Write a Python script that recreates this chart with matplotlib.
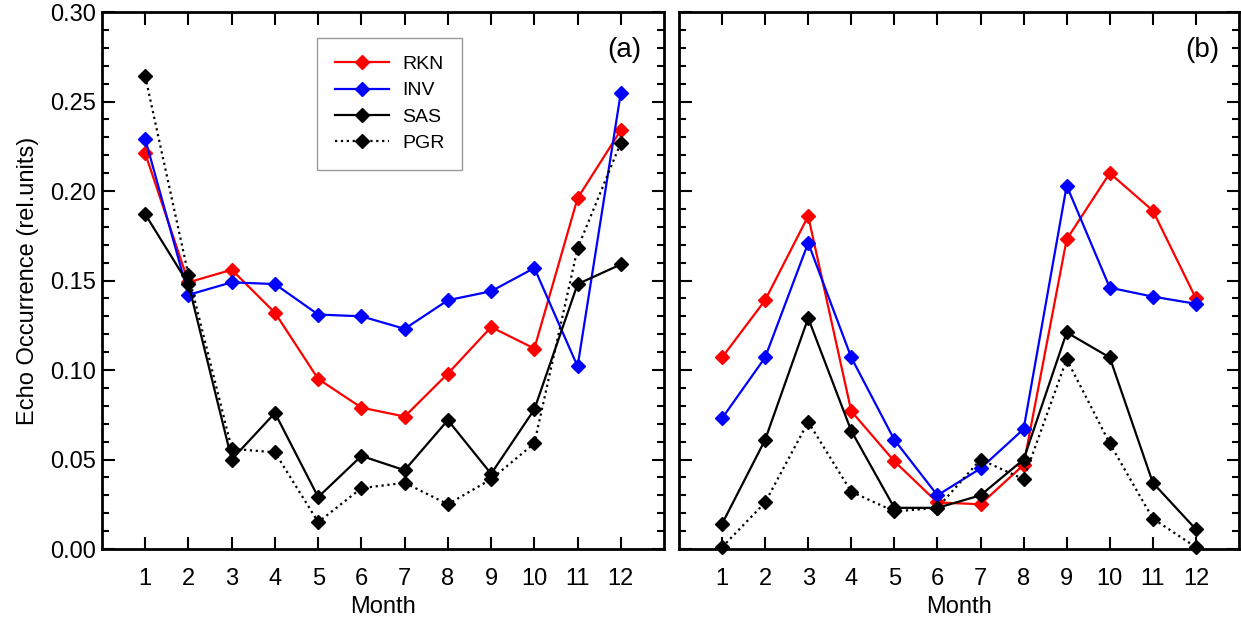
import matplotlib
matplotlib.use("Agg")
import matplotlib.pyplot as plt
from matplotlib.ticker import MultipleLocator

plt.rcParams["font.family"] = ["Liberation Sans", "DejaVu Sans"]

MONTHS = list(range(1, 13))

# panel (a)
RKN_A = [0.221, 0.149, 0.156, 0.132, 0.095, 0.079, 0.074, 0.098, 0.124, 0.112, 0.196, 0.234]
INV_A = [0.229, 0.142, 0.149, 0.148, 0.131, 0.130, 0.123, 0.139, 0.144, 0.157, 0.102, 0.255]
SAS_A = [0.187, 0.148, 0.050, 0.076, 0.029, 0.052, 0.044, 0.072, 0.042, 0.078, 0.148, 0.159]
PGR_A = [0.264, 0.153, 0.056, 0.054, 0.015, 0.034, 0.037, 0.025, 0.039, 0.059, 0.168, 0.227]

# panel (b)
RKN_B = [0.107, 0.139, 0.186, 0.077, 0.049, 0.026, 0.025, 0.047, 0.173, 0.210, 0.189, 0.140]
INV_B = [0.073, 0.107, 0.171, 0.107, 0.061, 0.030, 0.045, 0.067, 0.203, 0.146, 0.141, 0.137]
SAS_B = [0.014, 0.061, 0.129, 0.066, 0.023, 0.023, 0.030, 0.050, 0.121, 0.107, 0.037, 0.011]
PGR_B = [0.001, 0.026, 0.071, 0.032, 0.021, 0.023, 0.050, 0.039, 0.106, 0.059, 0.017, 0.001]

STATIONS = ["RKN", "INV", "SAS", "PGR"]
COLORS = ["#ff0000", "#0000ff", "black", "black"]
STYLES = ["-", "-", "-", ":"]

fig = plt.figure(figsize=(12.41, 6.17), dpi=100)
ax_a = fig.add_axes([0.0822, 0.1102, 0.4529, 0.8703])
ax_b = fig.add_axes([0.5471, 0.1102, 0.4513, 0.8703])


def draw(ax, series, tag, tag_x, ylabels):
    for name, vals, c, ls in zip(STATIONS, series, COLORS, STYLES):
        ax.plot(MONTHS, vals, color=c, linestyle=ls, linewidth=1.6,
                marker="D", markersize=7.5, markerfacecolor=c,
                markeredgecolor=c, label=name, clip_on=False, zorder=3)
    ax.set_xlim(0, 13)
    ax.set_ylim(0, 0.30)
    ax.set_xticks(MONTHS)
    ax.yaxis.set_major_locator(MultipleLocator(0.05))
    ax.yaxis.set_minor_locator(MultipleLocator(0.01))
    ax.tick_params(which="major", direction="in", length=9, width=1.5,
                   top=True, right=True, labelsize=17)
    ax.tick_params(which="minor", direction="in", length=5, width=1.5,
                   right=True)
    ax.tick_params(axis="x", which="major", pad=14)
    ax.tick_params(axis="y", which="major", pad=4)
    ax.tick_params(axis="x", which="minor", bottom=False, top=False)
    if ylabels:
        ax.yaxis.set_major_formatter(plt.FormatStrFormatter("%.2f"))
    else:
        ax.set_yticklabels([])
    for s in ax.spines.values():
        s.set_linewidth(2.0)
    ax.set_xlabel("Month", fontsize=17, labelpad=4)
    ax.text(tag_x, 0.929, tag, transform=ax.transAxes, fontsize=20,
            ha="center", va="center")


draw(ax_a, [RKN_A, INV_A, SAS_A, PGR_A], "(a)", 0.929, True)
draw(ax_b, [RKN_B, INV_B, SAS_B, PGR_B], "(b)", 0.934, False)

ax_a.set_ylabel("Echo Occurrence (rel.units)", fontsize=17, labelpad=8)

leg = ax_a.legend(loc="upper left", bbox_to_anchor=(0.3826, 0.9516),
                  borderaxespad=0, fontsize=14, handlelength=2.8,
                  handletextpad=0.7, borderpad=0.9, labelspacing=0.45,
                  fancybox=False, framealpha=1)
leg.get_frame().set_edgecolor("#999999")
leg.get_frame().set_linewidth(1.0)

fig.savefig("out.png", dpi=100, facecolor="white")
